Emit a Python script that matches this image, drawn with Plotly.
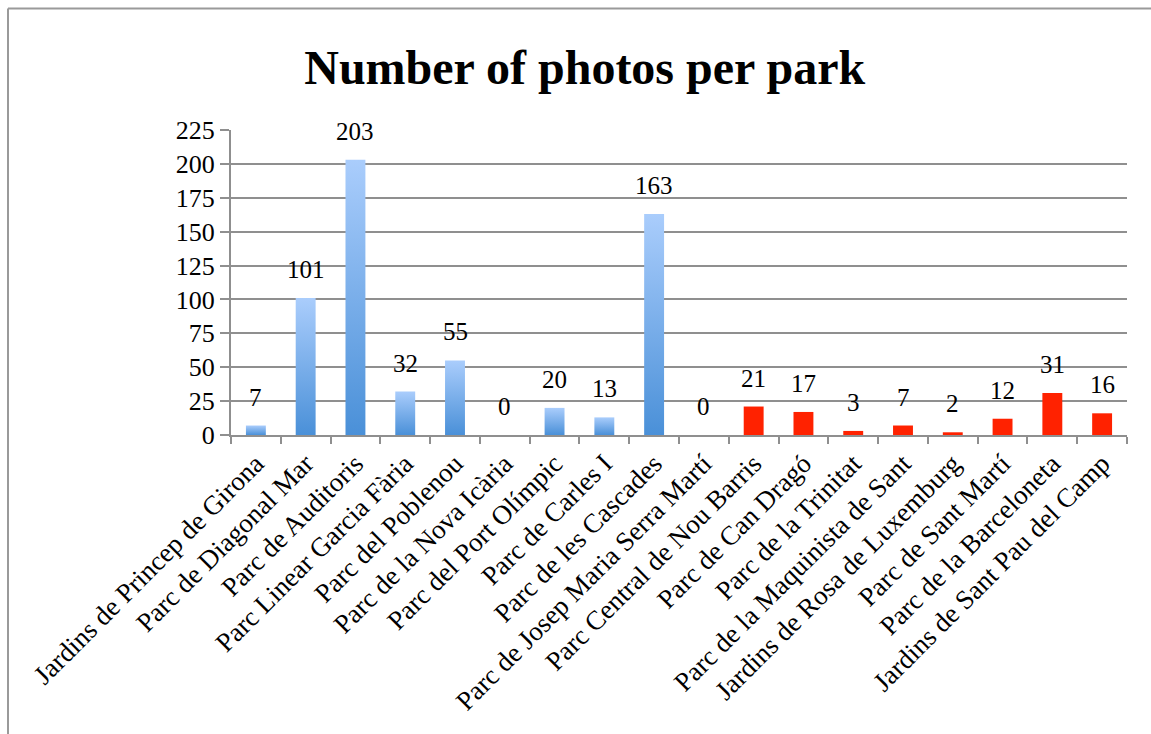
import plotly.graph_objects as go

parks = [
    "Jardins de Princep de Girona", "Parc de Diagonal Mar", "Parc de Auditoris",
    "Parc Linear Garcia Fària", "Parc del Poblenou", "Parc de la Nova Icària",
    "Parc del Port Olímpic", "Parc de Carles I", "Parc de les Cascades",
    "Parc de Josep Maria Serra Martí", "Parc Central de Nou Barris", "Parc de Can Dragó",
    "Parc de la Trinitat", "Parc de la Maquinista de Sant", "Jardins de Rosa de Luxemburg",
    "Parc de Sant Martí", "Parc de la Barceloneta", "Jardins de Sant Pau del Camp",
]
photos = [7, 101, 203, 32, 55, 0, 20, 13, 163, 0, 21, 17, 3, 7, 2, 12, 31, 16]
group = ["blue"] * 10 + ["red"] * 8

y_ticks = list(range(0, 226, 25))

BLUE_TOP = "#AACDFC"
BLUE_BOTTOM = "#4A90D8"
RED = "#FF2200"
GRID = "#8F8F8F"
FONT = "Liberation Serif, Times New Roman, serif"
BAR_W = 0.4

fig = go.Figure()

# gradient blue bars
for i, (v, g) in enumerate(zip(photos, group)):
    if g != "blue" or v <= 0:
        continue
    fig.add_trace(go.Scatter(
        x=[i - BAR_W / 2, i + BAR_W / 2, i + BAR_W / 2, i - BAR_W / 2, i - BAR_W / 2],
        y=[0, 0, v, v, 0],
        mode="lines", fill="toself", line=dict(width=0),
        fillgradient=dict(type="vertical",
                          colorscale=[[0, BLUE_BOTTOM], [1, BLUE_TOP]]),
        hoverinfo="skip", showlegend=False,
    ))

red_x = [i for i, g in enumerate(group) if g == "red"]
red_y = [photos[i] for i in red_x]
fig.add_trace(go.Bar(x=red_x, y=red_y, width=BAR_W, marker=dict(color=RED, line=dict(width=0)),
                     showlegend=False))

# value labels
for i, v in enumerate(photos):
    fig.add_annotation(x=i, y=v, text=str(v), showarrow=False, yanchor="bottom",
                       yshift=13, font=dict(family=FONT, size=25, color="black"))

# outer chart border (left and top)
fig.add_shape(type="line", xref="paper", yref="paper",
              x0=(8 - 231) / 896, x1=(1151 - 231) / 896,
              y0=1 + (130 - 8.5) / 305, y1=1 + (130 - 8.5) / 305,
              line=dict(color="#9A9A9A", width=2))
fig.add_shape(type="line", xref="paper", yref="paper",
              x0=(8 - 231) / 896, x1=(8 - 231) / 896,
              y0=1 + (130 - 8.5) / 305, y1=-(734 - 435) / 305,
              line=dict(color="#9A9A9A", width=2))

fig.update_layout(
    width=1151, height=734,
    margin=dict(l=231, r=24, t=130, b=299, autoexpand=False),
    paper_bgcolor="white", plot_bgcolor="white",
    title=dict(text="<b>Number of photos per park</b>", x=0.508, xanchor="center",
               y=1 - 67 / 734, yanchor="middle",
               font=dict(family=FONT, size=48, color="black")),
    font=dict(family=FONT, color="black"),
    bargap=0.6,
    xaxis=dict(range=[-0.5, len(parks) - 0.5], tickmode="array",
               tickvals=list(range(len(parks))), ticktext=parks,
               tickangle=-45, ticks="", showgrid=False, zeroline=False,
               showline=True, linecolor=GRID, linewidth=2, automargin=False,
               tickfont=dict(family=FONT, size=27, color="black"),
               minor=dict(tickmode="array",
                          tickvals=[k - 0.5 for k in range(len(parks) + 1)],
                          ticks="outside", ticklen=7, tickcolor=GRID, tickwidth=2)),
    yaxis=dict(range=[0, 225], tickmode="array", tickvals=y_ticks,
               showgrid=True, gridcolor=GRID, gridwidth=2, zeroline=False,
               showline=True, linecolor=GRID, linewidth=2, automargin=False,
               ticks="outside", ticklen=9, tickcolor=GRID, tickwidth=2,
               tickfont=dict(family=FONT, size=26, color="black")),
)

fig.write_html("out.html")
